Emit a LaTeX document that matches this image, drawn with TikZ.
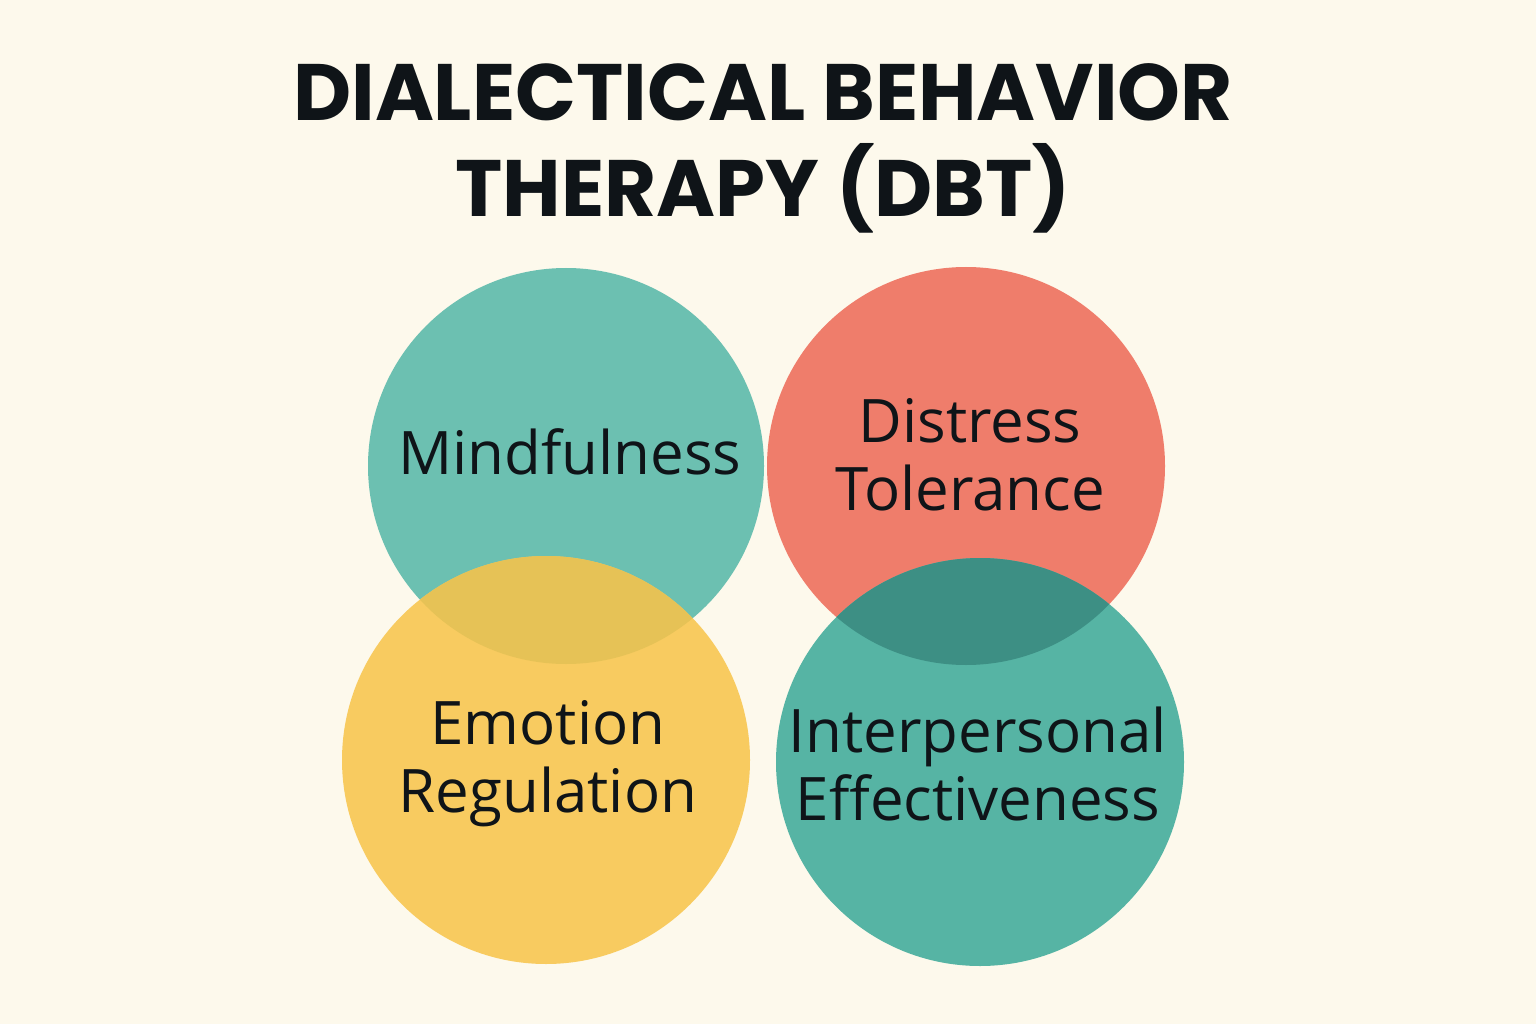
\documentclass[tikz,border=0pt]{standalone}
\usepackage{fontspec}
\setmainfont{Open Sans}
\newfontfamily\titlefont{Poppins}
\definecolor{bg}{HTML}{FDF9EC}
\definecolor{tealA}{HTML}{6CC0B1}
\definecolor{redA}{HTML}{EF7D6B}
\definecolor{yelA}{HTML}{F8CB60}
\definecolor{tealB}{HTML}{56B4A4}
\definecolor{ovY}{HTML}{E6C256}
\definecolor{ovT}{HTML}{3D8F84}
\definecolor{ink}{HTML}{0F1418}
\begin{document}
\begin{tikzpicture}[x=1pt,y=-1pt,
  lab/.style={text=ink,font=\fontsize{60}{68}\selectfont,align=center}]
\fill[bg] (0,0) rectangle (1536,1024);
\node[text=ink,font=\titlefont\bfseries\fontsize{80}{96}\selectfont,align=center] (title) at (763,148) {DIALECTICAL BEHAVIOR\\THERAPY (DBT)};
\fill[tealA] (566,466) circle (198);
\fill[redA] (966,466) circle (199);
\fill[yelA] (546,760) circle (204);
\fill[tealB] (980,762) circle (204);
\begin{scope}\clip (566,466) circle (198); \fill[ovY] (546,760) circle (204);\end{scope}
\begin{scope}\clip (966,466) circle (199); \fill[ovT] (980,762) circle (204);\end{scope}
\node[lab] (m) at (570,452) {Mindfulness};
\node[lab] (d) at (970,455) {Distress\\Tolerance};
\node[lab] (e) at (548,764) {Emotion\\Regulation};
\node[lab] (i) at (978,764) {Interpersonal\\Effectiveness};
\end{tikzpicture}
\end{document}
